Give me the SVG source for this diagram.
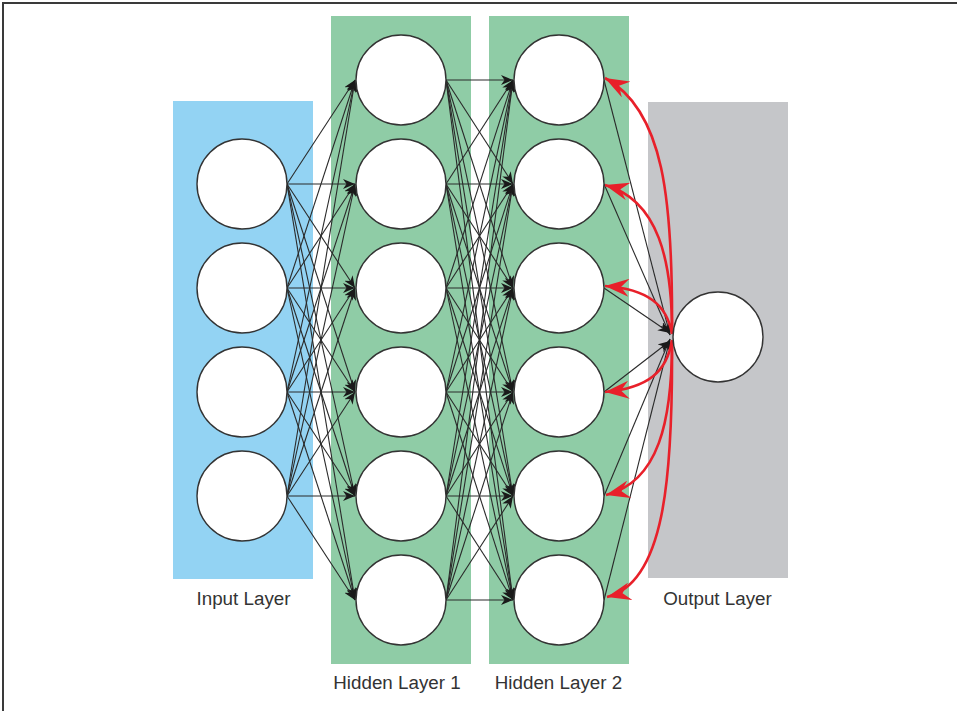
<svg xmlns="http://www.w3.org/2000/svg" width="957" height="711" viewBox="0 0 957 711">
  <defs>
    <style>
      .frame { stroke: #3a3a3a; stroke-width: 2; fill: none; }
      .band-in { fill: #93d3f3; }
      .band-hid { fill: #8fcca6; }
      .band-out { fill: #c5c6c9; }
      .neuron { fill: #ffffff; stroke: #333333; stroke-width: 1.4; }
      .edge { stroke: #2a2a2a; stroke-width: 1.1; fill: none; marker-end: url(#arrow); }
      .back { stroke: #e8202a; stroke-width: 2.6; fill: none; marker-end: url(#arrow-red); }
      .label { font-family: "Liberation Sans", Arial, sans-serif; font-size: 18.8px; fill: #333333; text-anchor: middle; }
    </style>
    <marker id="arrow" viewBox="0 0 12 10" refX="12" refY="5" markerWidth="12" markerHeight="10" markerUnits="userSpaceOnUse" orient="auto">
      <path d="M12,5 L0,0 L3.5,5 L0,10 Z" fill="#1a1a1a"/>
    </marker>
    <marker id="arrow-red" viewBox="0 0 24 18" refX="24" refY="9" markerWidth="24" markerHeight="18" markerUnits="userSpaceOnUse" orient="auto">
      <path d="M24,9 L0,0 L8,9 L0,18 Z" fill="#e8202a"/>
    </marker>
  </defs>

  <rect width="957" height="711" fill="#ffffff"/>
  <path class="frame" d="M3,711 L3,3 L957,3"/>

  <!-- layer bands -->
  <g id="bands">
    <rect class="band-in" x="173" y="101" width="140" height="478"/>
    <rect class="band-hid" x="331" y="16" width="140" height="648"/>
    <rect class="band-hid" x="489" y="16" width="140" height="648"/>
    <rect class="band-out" x="648" y="102" width="140" height="476"/>
  </g>

  <!-- weighted connections and error feedback -->
  <g id="connectors">
    <!-- input to hidden 1 -->
    <line class="edge" x1="287" y1="184" x2="355" y2="80"/>
    <line class="edge" x1="287" y1="184" x2="355" y2="184"/>
    <line class="edge" x1="287" y1="184" x2="355" y2="288"/>
    <line class="edge" x1="287" y1="184" x2="355" y2="392"/>
    <line class="edge" x1="287" y1="184" x2="355" y2="496"/>
    <line class="edge" x1="287" y1="184" x2="355" y2="600"/>
    <line class="edge" x1="287" y1="288" x2="355" y2="80"/>
    <line class="edge" x1="287" y1="288" x2="355" y2="184"/>
    <line class="edge" x1="287" y1="288" x2="355" y2="288"/>
    <line class="edge" x1="287" y1="288" x2="355" y2="392"/>
    <line class="edge" x1="287" y1="288" x2="355" y2="496"/>
    <line class="edge" x1="287" y1="288" x2="355" y2="600"/>
    <line class="edge" x1="287" y1="392" x2="355" y2="80"/>
    <line class="edge" x1="287" y1="392" x2="355" y2="184"/>
    <line class="edge" x1="287" y1="392" x2="355" y2="288"/>
    <line class="edge" x1="287" y1="392" x2="355" y2="392"/>
    <line class="edge" x1="287" y1="392" x2="355" y2="496"/>
    <line class="edge" x1="287" y1="392" x2="355" y2="600"/>
    <line class="edge" x1="287" y1="496" x2="355" y2="80"/>
    <line class="edge" x1="287" y1="496" x2="355" y2="184"/>
    <line class="edge" x1="287" y1="496" x2="355" y2="288"/>
    <line class="edge" x1="287" y1="496" x2="355" y2="392"/>
    <line class="edge" x1="287" y1="496" x2="355" y2="496"/>
    <line class="edge" x1="287" y1="496" x2="355" y2="600"/>

    <!-- hidden 1 to hidden 2 -->
    <line class="edge" x1="446" y1="80" x2="513" y2="80"/>
    <line class="edge" x1="446" y1="80" x2="513" y2="184"/>
    <line class="edge" x1="446" y1="80" x2="513" y2="288"/>
    <line class="edge" x1="446" y1="80" x2="513" y2="392"/>
    <line class="edge" x1="446" y1="80" x2="513" y2="496"/>
    <line class="edge" x1="446" y1="80" x2="513" y2="600"/>
    <line class="edge" x1="446" y1="184" x2="513" y2="80"/>
    <line class="edge" x1="446" y1="184" x2="513" y2="184"/>
    <line class="edge" x1="446" y1="184" x2="513" y2="288"/>
    <line class="edge" x1="446" y1="184" x2="513" y2="392"/>
    <line class="edge" x1="446" y1="184" x2="513" y2="496"/>
    <line class="edge" x1="446" y1="184" x2="513" y2="600"/>
    <line class="edge" x1="446" y1="288" x2="513" y2="80"/>
    <line class="edge" x1="446" y1="288" x2="513" y2="184"/>
    <line class="edge" x1="446" y1="288" x2="513" y2="288"/>
    <line class="edge" x1="446" y1="288" x2="513" y2="392"/>
    <line class="edge" x1="446" y1="288" x2="513" y2="496"/>
    <line class="edge" x1="446" y1="288" x2="513" y2="600"/>
    <line class="edge" x1="446" y1="392" x2="513" y2="80"/>
    <line class="edge" x1="446" y1="392" x2="513" y2="184"/>
    <line class="edge" x1="446" y1="392" x2="513" y2="288"/>
    <line class="edge" x1="446" y1="392" x2="513" y2="392"/>
    <line class="edge" x1="446" y1="392" x2="513" y2="496"/>
    <line class="edge" x1="446" y1="392" x2="513" y2="600"/>
    <line class="edge" x1="446" y1="496" x2="513" y2="80"/>
    <line class="edge" x1="446" y1="496" x2="513" y2="184"/>
    <line class="edge" x1="446" y1="496" x2="513" y2="288"/>
    <line class="edge" x1="446" y1="496" x2="513" y2="392"/>
    <line class="edge" x1="446" y1="496" x2="513" y2="496"/>
    <line class="edge" x1="446" y1="496" x2="513" y2="600"/>
    <line class="edge" x1="446" y1="600" x2="513" y2="80"/>
    <line class="edge" x1="446" y1="600" x2="513" y2="184"/>
    <line class="edge" x1="446" y1="600" x2="513" y2="288"/>
    <line class="edge" x1="446" y1="600" x2="513" y2="392"/>
    <line class="edge" x1="446" y1="600" x2="513" y2="496"/>
    <line class="edge" x1="446" y1="600" x2="513" y2="600"/>

    <!-- hidden 2 to output -->
    <line class="edge" x1="604" y1="80" x2="670" y2="335"/>
    <line class="edge" x1="604" y1="184" x2="670" y2="335"/>
    <line class="edge" x1="604" y1="288" x2="670" y2="333"/>
    <line class="edge" x1="604" y1="392" x2="670" y2="341"/>
    <line class="edge" x1="604" y1="496" x2="670" y2="339"/>
    <line class="edge" x1="604" y1="600" x2="670" y2="339"/>

    <!-- error propagated back from the output -->
    <path class="back" d="M672,332 C673,200 664,110 605,78"/>
    <path class="back" d="M672,332 C672,262 659,200 605,185"/>
    <path class="back" d="M672,334 C667,305 648,289 605,286"/>
    <path class="back" d="M672,340 C667,372 648,388 605,392"/>
    <path class="back" d="M672,342 C672,420 659,482 606,495"/>
    <path class="back" d="M672,342 C673,480 664,583 607,597"/>
  </g>

  <!-- input layer -->
  <g id="input-1"><circle class="neuron" cx="242" cy="184" r="45"/></g>
  <g id="input-2"><circle class="neuron" cx="242" cy="288" r="45"/></g>
  <g id="input-3"><circle class="neuron" cx="242" cy="392" r="45"/></g>
  <g id="input-4"><circle class="neuron" cx="242" cy="496" r="45"/></g>

  <!-- hidden layer 1 -->
  <g id="hidden1-1"><circle class="neuron" cx="401" cy="80" r="45"/></g>
  <g id="hidden1-2"><circle class="neuron" cx="401" cy="184" r="45"/></g>
  <g id="hidden1-3"><circle class="neuron" cx="401" cy="288" r="45"/></g>
  <g id="hidden1-4"><circle class="neuron" cx="401" cy="392" r="45"/></g>
  <g id="hidden1-5"><circle class="neuron" cx="401" cy="496" r="45"/></g>
  <g id="hidden1-6"><circle class="neuron" cx="401" cy="600" r="45"/></g>

  <!-- hidden layer 2 -->
  <g id="hidden2-1"><circle class="neuron" cx="559" cy="80" r="45"/></g>
  <g id="hidden2-2"><circle class="neuron" cx="559" cy="184" r="45"/></g>
  <g id="hidden2-3"><circle class="neuron" cx="559" cy="288" r="45"/></g>
  <g id="hidden2-4"><circle class="neuron" cx="559" cy="392" r="45"/></g>
  <g id="hidden2-5"><circle class="neuron" cx="559" cy="496" r="45"/></g>
  <g id="hidden2-6"><circle class="neuron" cx="559" cy="600" r="45"/></g>

  <!-- output layer -->
  <g id="output-1"><circle class="neuron" cx="718" cy="337" r="45"/></g>

  <!-- layer captions -->
  <g id="labels">
    <text class="label" x="243.5" y="605">Input Layer</text>
    <text class="label" x="397" y="689">Hidden Layer 1</text>
    <text class="label" x="558.5" y="689">Hidden Layer 2</text>
    <text class="label" x="717.5" y="605">Output Layer</text>
  </g>
</svg>
